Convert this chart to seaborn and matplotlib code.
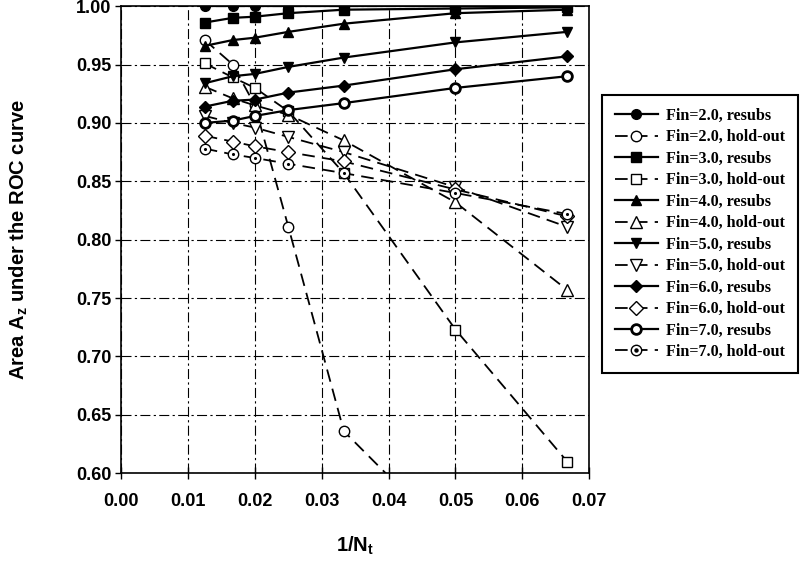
import matplotlib
matplotlib.use('Agg')
import matplotlib.pyplot as plt
from matplotlib.legend_handler import HandlerTuple
import numpy as np
import pandas as pd
import seaborn as sns

# 1/Nt values (Nt = 80, 60, 50, 40, 30, 20, 15)
inv_nt = [0.0125, 0.0167, 0.0200, 0.0250, 0.0333, 0.0500, 0.0667]

fin2_resubs = [1.000, 1.000, 1.000, 1.000, 1.000, 1.000, 1.000]
fin2_hold = [0.971, 0.950, 0.915, 0.811, 0.636, 0.540, np.nan]
fin3_resubs = [0.986, 0.990, 0.991, 0.994, 0.997, 0.998, 0.999]
fin3_hold = [0.951, 0.939, 0.930, 0.910, 0.857, 0.723, 0.610]
fin4_resubs = [0.966, 0.971, 0.973, 0.978, 0.985, 0.994, 0.997]
fin4_hold = [0.931, 0.921, 0.915, 0.907, 0.885, 0.832, 0.757]
fin5_resubs = [0.934, 0.940, 0.942, 0.948, 0.956, 0.969, 0.978]
fin5_hold = [0.906, 0.900, 0.896, 0.888, 0.875, 0.845, 0.811]
fin6_resubs = [0.914, 0.919, 0.920, 0.926, 0.932, 0.946, 0.957]
fin6_hold = [0.889, 0.884, 0.880, 0.875, 0.867, 0.843, 0.820]
fin7_resubs = [0.900, 0.902, 0.906, 0.911, 0.917, 0.930, 0.940]
fin7_hold = [0.878, 0.873, 0.870, 0.865, 0.857, 0.840, 0.822]

labels = ['Fin=2.0, resubs', 'Fin=2.0, hold-out', 'Fin=3.0, resubs', 'Fin=3.0, hold-out',
          'Fin=4.0, resubs', 'Fin=4.0, hold-out', 'Fin=5.0, resubs', 'Fin=5.0, hold-out',
          'Fin=6.0, resubs', 'Fin=6.0, hold-out', 'Fin=7.0, resubs', 'Fin=7.0, hold-out']
series = [fin2_resubs, fin2_hold, fin3_resubs, fin3_hold, fin4_resubs, fin4_hold,
          fin5_resubs, fin5_hold, fin6_resubs, fin6_hold, fin7_resubs, fin7_hold]
markers = ['o', 'o', 's', 's', '^', '^', 'v', 'v', 'D', 'D', 'o', 'o']
sizes = [7, 7.5, 6.5, 7.5, 7, 8, 7, 8, 6, 7.5, 7, 7.5]

xticks = [0.00, 0.01, 0.02, 0.03, 0.04, 0.05, 0.06, 0.07]
yticks = [0.60, 0.65, 0.70, 0.75, 0.80, 0.85, 0.90, 0.95, 1.00]

plt.rcParams['font.family'] = ['Liberation Sans', 'DejaVu Sans']
plt.rcParams['font.weight'] = 'bold'
plt.rcParams['mathtext.fontset'] = 'custom'
plt.rcParams['mathtext.rm'] = 'Liberation Sans:bold'
plt.rcParams['mathtext.bf'] = 'Liberation Sans:bold'
plt.rcParams['mathtext.default'] = 'bf'

fig = plt.figure(figsize=(8, 5.62), dpi=100)
ax = fig.add_axes([0.1515, 0.158, 0.585, 0.831])

for i, (lab, vals) in enumerate(zip(labels, series)):
    df = pd.DataFrame({'x': inv_nt, 'y': vals}).dropna()
    hold = 'hold' in lab
    if i == 10:
        mfc, mew = 'white', 2.0
    elif hold:
        mfc, mew = 'white', 1.0
    else:
        mfc, mew = 'black', 1.0
    sns.lineplot(data=df, x='x', y='y', ax=ax, label=lab, color='black',
                 marker=markers[i], markersize=sizes[i], markerfacecolor=mfc,
                 markeredgecolor='black', markeredgewidth=mew,
                 linewidth=1.3 if hold else 1.6,
                 linestyle=(0, (7, 4)) if hold else '-', clip_on=True)

# dot inside the Fin=7.0 hold-out circles
sns.scatterplot(x=inv_nt, y=fin7_hold, ax=ax, color='black', s=5, marker='o',
                linewidth=0, zorder=5, legend=False)

ax.set_xlim(0, 0.07)
ax.set_ylim(0.60, 1.00)
ax.set_xticks(xticks)
ax.set_yticks(yticks)
ax.set_xticklabels(['%.2f' % t for t in xticks], fontsize=13, fontweight='bold')
ax.set_yticklabels(['%.2f' % t for t in yticks], fontsize=13, fontweight='bold')
ax.tick_params(axis='x', direction='inout', length=8, width=1.0, pad=10)
ax.tick_params(axis='y', direction='out', length=4, width=1.0, pad=3)
ax.grid(True, color='black', linestyle=(0, (9, 3, 2, 3)), linewidth=0.8)
ax.set_axisbelow(True)
for sp in ax.spines.values():
    sp.set_linewidth(1.2)
    sp.set_color('black')

ax.set_xlabel(r'1/N$_\mathbf{t}$', fontsize=14.5, fontweight='bold', labelpad=18)
ax.set_ylabel(r'Area A$_\mathbf{z}$ under the ROC curve', fontsize=14.5,
              fontweight='bold', labelpad=33)

handles, labs = ax.get_legend_handles_labels()
dot = plt.Line2D([], [], color='black', marker='o', markersize=2.2, linestyle='none')
handles[-1] = (handles[-1], dot)
leg = ax.legend(handles, labs, loc='upper left', bbox_to_anchor=(0.7525, 0.831),
                bbox_transform=fig.transFigure, frameon=True, fancybox=False,
                edgecolor='black', framealpha=1, handlelength=2.67, labelspacing=0.34,
                borderpad=0.8, handletextpad=0.5, borderaxespad=0,
                prop={'family': 'Liberation Serif', 'weight': 'bold', 'size': 11.6},
                handler_map={tuple: HandlerTuple(ndivide=1)})
leg.get_frame().set_linewidth(1.5)

plt.savefig('out.png', dpi=100)
